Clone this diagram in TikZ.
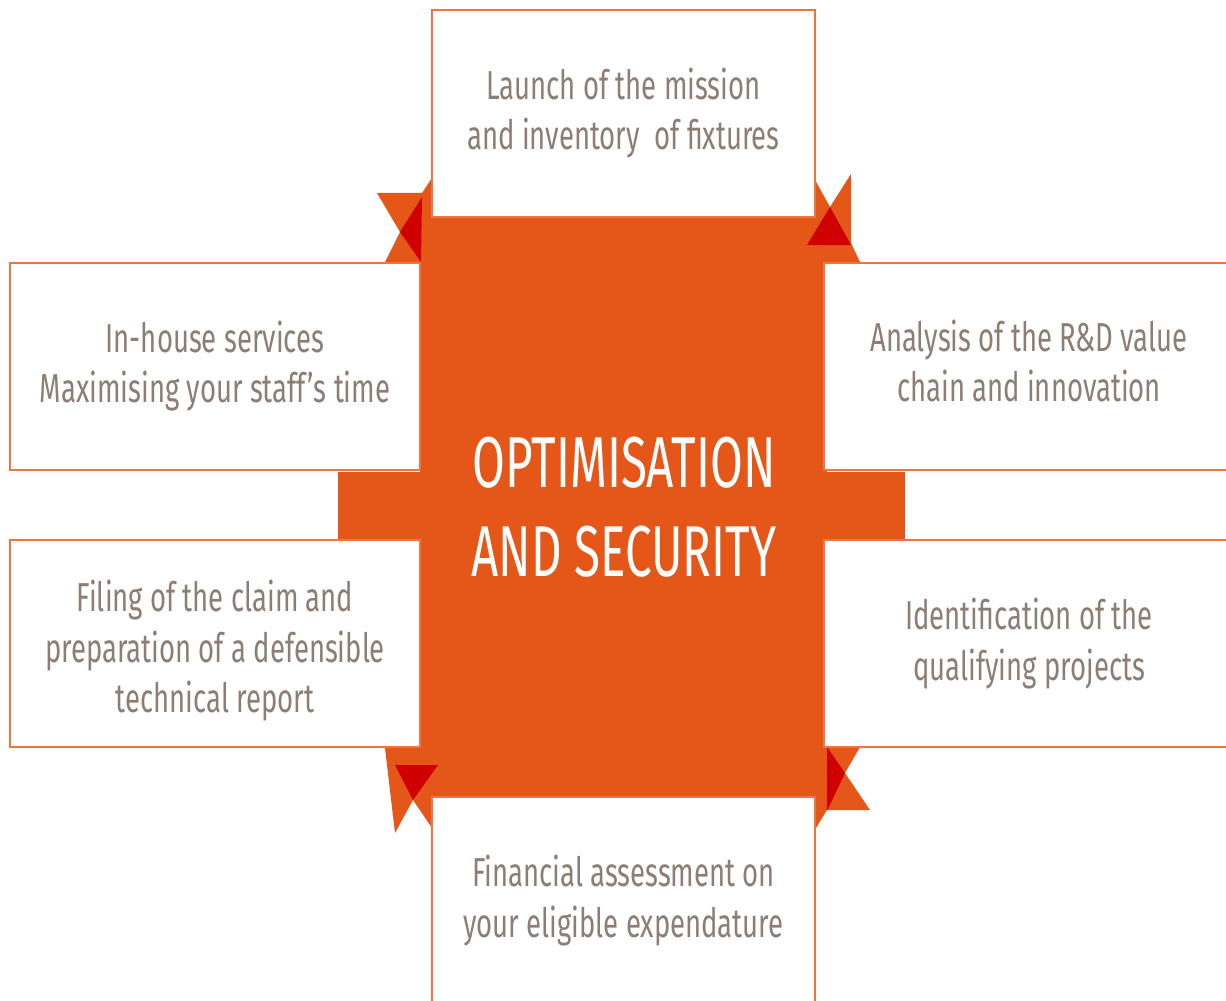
\documentclass[tikz,border=0pt]{standalone}
\usepackage{fontspec}
\setmainfont{Fira Sans}[FakeStretch=0.68]
\newfontfamily\titlefont{Fira Sans}[FakeStretch=0.66]
\usepackage{tikz}
\usetikzlibrary{positioning}
\definecolor{ribbon}{HTML}{E55619}
\definecolor{fold}{HTML}{D00000}
\definecolor{boxline}{HTML}{F07440}
\definecolor{boxtext}{HTML}{8C7E74}
\tikzset{
  box/.style={draw=boxline, line width=1.2pt, fill=white, inner sep=0pt,
              align=center, text=boxtext,
              font=\fontsize{23}{28.5}\selectfont},
  wide/.style={minimum width=8.2cm, minimum height=4.14cm},
  narrow/.style={minimum width=7.66cm, minimum height=4.14cm},
}

\begin{document}
\begin{tikzpicture}[x=0.02cm,y=-0.02cm]
\useasboundingbox (0,0) rectangle (1226,1000);
\clip (0,0) rectangle (1226,1000);
% ribbon behind the boxes
\fill[ribbon] (338,472) rectangle (905,539);
\fill[ribbon] (420,217) rectangle (827,797);
% folded corners
\fill[ribbon] (377,193) -- (422,193) -- (432,178) -- (432,217) -- (420,217)
  -- (420,262) -- (385,262) -- (400,232) -- cycle;
\fill[fold] (422,197) -- (421,262) -- (400,232) -- cycle;
\fill[ribbon] (814,178) -- (830,207) -- (851,174) -- (851,243) -- (860,262)
  -- (827,262) -- (827,217) -- (814,217) -- cycle;
\fill[fold] (807,245) -- (851,245) -- (830,207) -- cycle;
\fill[ribbon] (385,748) -- (420,748) -- (420,797) -- (432,797) -- (432,828)
  -- (413,800) -- (395,833) -- cycle;
\fill[fold] (395,765) -- (438,765) -- (413,800) -- cycle;
\fill[ribbon] (827,747) -- (860,747) -- (845,773) -- (870,810) -- (827,810)
  -- (816,828) -- (816,797) -- (827,797) -- cycle;
\fill[fold] (827,747) -- (827,811) -- (845,773) -- cycle;
% the six steps
\node[box,narrow] (launch) at (623.5,113.5) {Launch of the mission\\and inventory\ \ of fixtures};
\node[box,wide] (inhouse) at (215,366.5) {In-house services\\Maximising your staff’s time};
\node[box,wide] (filing) at (215,643.5) {\rule{0pt}{26pt}Filing of the claim and\\preparation of a defensible\\technical report};
\node[box,wide] (analysis) at (1029,366.5) {Analysis of the R\&D value\\chain and innovation\rule[-7pt]{0pt}{7pt}};
\node[box,wide] (qualifying) at (1029,643.5) {Identification of the\\qualifying projects};
\node[box,narrow] (financial) at (623.5,900.5) {Financial assessment on\\your eligible expendature};
% centre title
\node[text=white, align=center, font=\titlefont\fontsize{41}{50.6}\selectfont]
  (title) at (624,507) {OPTIMISATION\\AND SECURITY};
\end{tikzpicture}
\end{document}
